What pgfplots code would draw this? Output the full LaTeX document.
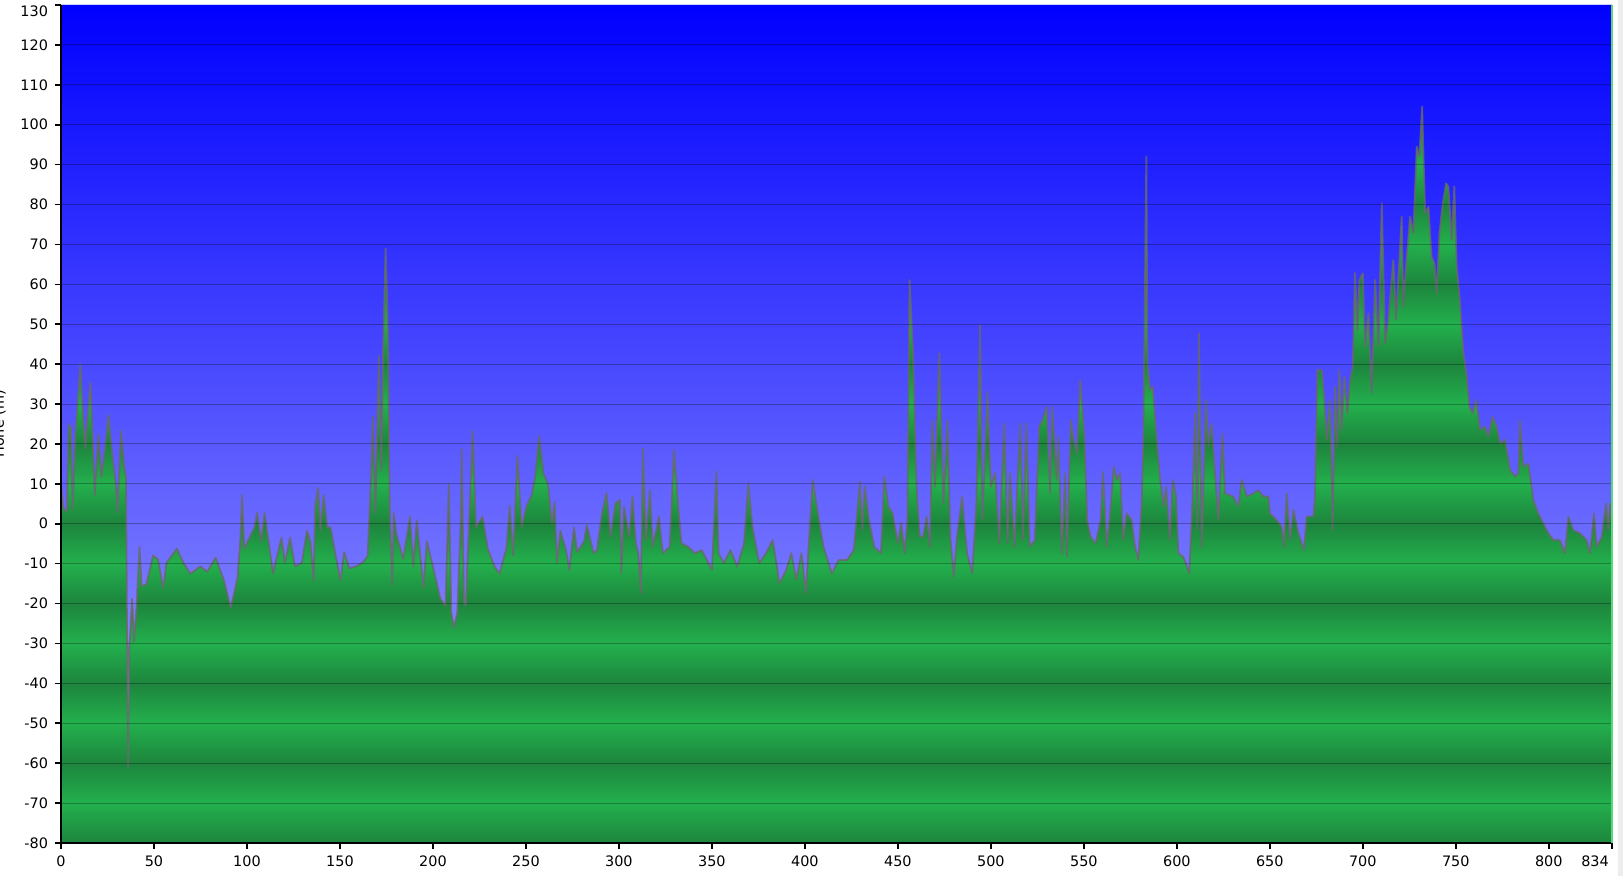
\documentclass[border=0pt]{standalone}
\usepackage{pgfplots}
\usepackage{pgfplotstable}
\pgfplotsset{compat=1.18}
\usepackage{fontspec}
\setmainfont{DejaVu Sans}

\definecolor{bandDark}{RGB}{29,133,61}
\definecolor{bandLight}{RGB}{35,176,77}
\definecolor{skyTop}{RGB}{0,0,255}
\definecolor{skyBottom}{RGB}{170,170,255}
\definecolor{profLine}{RGB}{105,105,105}
\definecolor{edgeGreen}{RGB}{90,215,120}
\definecolor{topLine}{RGB}{205,205,255}

% green stripes, 10 m each: dark at multiples of 20, light in between
% (axis box -80..130 maps onto 25bp..75bp of the shading)
\pgfdeclareverticalshading{greenbands}{100bp}{%
  color(0bp)=(bandDark); color(25bp)=(bandDark);
  color(27.381bp)=(bandLight); color(29.762bp)=(bandDark);
  color(32.143bp)=(bandLight); color(34.524bp)=(bandDark);
  color(36.905bp)=(bandLight); color(39.286bp)=(bandDark);
  color(41.667bp)=(bandLight); color(44.048bp)=(bandDark);
  color(46.429bp)=(bandLight); color(48.810bp)=(bandDark);
  color(51.190bp)=(bandLight); color(53.571bp)=(bandDark);
  color(55.952bp)=(bandLight); color(58.333bp)=(bandDark);
  color(60.714bp)=(bandLight); color(63.095bp)=(bandDark);
  color(65.476bp)=(bandLight); color(67.857bp)=(bandDark);
  color(70.238bp)=(bandLight); color(72.619bp)=(bandDark);
  color(75bp)=(bandLight); color(100bp)=(bandLight)}

% elevation profile, distance vs. height
\pgfplotstableread{
x y
0 10
1.25 4
3.14 3
4.09 25
5.32 24
6.26 3.6
7.68 22
10.43 40
11.47 29.6
13.08 18.8
14.60 28.7
15.82 35.4
16.77 24.2
18.19 7.2
20.08 22.4
21.88 11.7
24.06 20.6
25.48 27.3
27.66 17
29.45 9.9
30.40 2.7
32.20 23.3
34.00 14.4
34.94 11.7
35.42 -22
36.08 -60.8
36.74 -31.3
38.26 -18.8
39.30 -29.5
40.43 -22.4
42.23 -5.8
43.37 -15.6
45.83 -15.2
49.52 -8
52.17 -8.9
54.92 -16.1
56.72 -9.8
62.30 -6.2
65.80 -9.8
69.49 -12.5
74.98 -10.7
78.58 -12
83.12 -8.5
87.67 -14.3
91.26 -21
94.96 -13.4
96.38 -4.4
97.32 7.2
98.55 -6.2
101.30 -3.5
104.04 -0.9
105.46 2.7
107.64 -4.4
109.44 2.7
111.33 -3.5
113.98 -12.5
116.73 -7.1
118.52 -3.5
120.42 -9.8
123.16 -3.5
125.81 -10.7
129.51 -9.8
132.25 -1.7
134.05 -4.4
135.85 -14.3
136.70 4.5
138.22 9
139.45 -1.7
141.24 7.2
143.14 -0.9
144.94 -0.9
147.68 -8
150.33 -14.3
152.23 -7.1
154.97 -11.2
158.57 -10.7
162.16 -9.8
164.91 -8
166.71 11.7
167.65 26.9
169.07 2.7
170.97 42.1
172.20 13.5
173.14 42.1
174.56 69
175.89 47.5
176.74 4.5
178.16 -15.2
178.92 2.7
180.34 -2.6
184.03 -8.9
187.63 1.8
189.42 -10.7
191.32 0.9
194.92 -16.1
196.71 -4.4
200.40 -11.6
204.00 -18.8
206.75 -20.6
208.54 9.9
209.87 -22.3
211.29 -26
213.09 -22.3
214.89 0
215.46 18.8
216.69 -19.7
217.63 -20.6
219.43 0
221.32 23.3
223.12 -0.9
226.72 1.8
229.46 -6.2
233.06 -10.7
235.80 -12.5
239.50 -6.2
241.30 4.5
243.10 -8
245.46 17
247.64 -0.9
250.38 4.5
253.13 7.2
254.93 11.7
257.10 22
259.47 12.6
261.83 9.9
264.01 0
265.43 5.4
266.7 -9.8
268.5 -1.7
271.3 -6.2
273.4 -11.6
275.8 -0.9
277.6 -7.1
281.3 -4.4
282.7 -0.3
286.4 -7.4
288.2 -6.6
290.9 2.6
293.3 7.7
295.5 -3.2
298.2 5.1
300.5 6.0
301.3 -12.5
302.7 4.3
305.5 -3.2
307.3 6.8
309.1 -4.9
310.4 -7.4
311.8 -17.4
312.9 18.9
314.5 -4.1
316.7 8.4
318.2 -5.8
321.5 1.8
323.6 -7.4
327.3 -5.8
329.6 18.5
331.8 5.1
333.6 -4.9
337.3 -5.8
340.9 -7.4
344.5 -6.6
350 -11.6
352.4 13.1
353.6 -7.4
356.4 -9.9
360 -6.6
363.6 -10.8
367.3 -4.9
369.6 10.1
371.8 -0.7
375.4 -9.9
379.1 -7.4
382.7 -4.1
386.3 -14.9
390 -11.6
392.7 -7.4
395.4 -14.0
398.2 -7.4
400.5 -17.4
404.2 11.0
406.4 4.3
410 -5.8
414.5 -12.5
418.2 -9.1
422.7 -9.1
426.3 -6.6
429.6 10.6
430.9 -1.5
432.2 9.3
434.5 0.9
437.3 -5.8
440.9 -7.4
442.7 11.8
444.9 4.3
447.2 2.6
450 -4.9
451.8 0.2
453.6 -7.4
455.1 0.9
456.3 61.1
458.2 42.7
460 9.3
461.8 -3.2
463.6 -3.2
465.4 1.8
467.3 -5.8
468.5 26.0
470 9.3
472.3 42.7
474.5 5.1
476.7 26.0
478.2 -3.2
480 -13.3
481.8 -3.2
484.5 6.8
487.2 -7.4
490 -12.5
492.2 5.1
494.2 49.8
495.4 0.9
496.9 17.7
498.2 33.1
500 9.3
502.3 12.7
504.5 -4.9
507.2 25.2
509 -4.9
510.3 12.7
512.7 -5.8
515.8 25.2
517.3 -4.1
519.1 25.2
520.9 -5.8
523.6 -4.1
526 24.3
527.8 26.0
530 29.3
531.8 7.7
533 29.3
535.4 11.0
536.3 21.8
538.1 -7.4
540 12.7
540.9 -8.2
543 26.0
544.5 21.0
546.3 17.7
548.1 36.0
550.3 21.8
551.8 0.9
553.6 -3.2
556.3 -4.9
559 0.9
560.3 13
562.3 -5.8
564.1 2.6
566.2 14.3
567.7 11
569.5 12.6
571.2 -4.1
573 2.6
575.7 0.9
577.5 -5.8
579.3 -9.1
581.1 5.1
582 21
583.6 92
584.2 40.2
585.6 33.5
587 34.3
588.8 23.5
591 11
592.8 4.3
594.2 9.3
596.3 -4.1
597.8 11
599.6 6.8
600.8 -7.4
603.5 -8.3
606.7 -12.4
608.5 6.8
609.8 27.7
611 -1.6
611.9 47.7
613.4 -5.8
615.7 31
617 19.3
618.7 25.1
620.5 12.6
622.3 0.9
624.5 22.6
625.9 7.6
630.4 6.8
633.1 4.3
634.9 11
637.6 6.8
641.2 7.6
643.8 8.4
646.5 6.8
649.2 6.8
650.1 2.6
653.7 0.9
656.4 -0.8
657.6 -5.8
659.1 7.6
660.9 -4.1
662.7 3.5
665.4 -2.4
668.4 -6.6
669.8 1.8
673.4 1.8
674.3 6.8
675.6 38.5
677.9 38.5
679.2 31.8
680.6 21
682.4 31
683.8 -1.6
685.1 34.3
686.3 19.3
687.4 38.5
688.6 23.5
690.1 36.8
691.7 27.7
693.1 36
694.6 39.3
695.8 62.8
697.1 48.5
698.2 61.1
700 62.8
701.2 44.4
703 52.7
704.8 32.7
706.6 61.1
708.4 44.4
710.2 80.3
712 45.2
713.7 51.1
716.4 66.1
717.9 51.1
720.9 76.9
721.8 54.4
723.6 66.9
725.4 76.9
727.2 72.8
729 94.5
730.4 92
731.9 104.5
733.5 77.8
735.3 79.4
737 66.9
738.5 65.2
739.7 57.7
741.2 72.8
743 80.3
744.8 85.3
746 84.5
747.8 71.1
749.2 84.5
750.5 64.4
752.3 55.2
754.1 42.7
755.9 36.8
757.3 29.3
759.1 27.7
760.9 31
763.1 23.5
765.7 24.3
767.5 21.8
769.8 26.8
772 24.3
773.8 20.1
776.5 21
779.2 13.5
781.9 11.8
783.6 12.6
784.5 26
786.3 14.3
789 15.1
791.7 5.9
794.4 2.6
797.1 0.1
799.8 -2.4
802.5 -4.1
806 -4.1
808.7 -7.4
810.5 1.8
813.2 -1.6
816.8 -2.4
820.4 -4.1
822.2 -7.4
824.3 2.6
825.8 -5.8
828.5 -3.3
830.8 5.1
832 -1.6
833 5
834 0
}\profile

\begin{document}
\begin{tikzpicture}
\begin{axis}[
  scale only axis,
  width=775.5pt, height=419pt,
  xmin=0, xmax=834, ymin=-80, ymax=130,
  axis lines*=left,
  axis line style={line width=1pt, black},
  xtick={0,50,...,800},
  ytick={-80,-70,...,120},
  extra x ticks={834},
  extra x tick style={grid=none, xticklabel style={xshift=-8.5pt}},
  extra y ticks={130},
  extra y tick style={grid=none, yticklabel style={yshift=-3pt}},
  tick align=outside,
  major tick length=3pt,
  tick style={line width=0.8pt, black},
  ymajorgrids,
  grid style={black, opacity=0.28, line width=0.5pt},
  axis background/.style={shading=greenbands},
  axis on top,
  ticklabel style={font=\fontsize{7.2}{8}\selectfont},
  /pgf/number format/assume math mode=true,
  ylabel={Höhe (m)},
  every axis y label/.style={at={(rel axis cs:0,0.5)}, xshift=-28.5pt,
    rotate=90, anchor=base, font=\fontsize{7.2}{8}\selectfont},
]
% sky above the profile; the zero-width run down x=0 makes the gradient span -80..130
\addplot[draw=none, mark=none, top color=skyTop, bottom color=skyBottom]
  table {\profile} -- (axis cs:834,130) -- (axis cs:0,130) -- (axis cs:0,-80) -- cycle;
\addplot[profLine, mark=none, line width=0.9pt, opacity=0.8, line join=round]
  table {\profile};
\end{axis}
\draw[edgeGreen, line width=0.6pt] (current axis.south east) -- (current axis.north east);
\draw[topLine, line width=0.5pt] (current axis.north west) -- (current axis.north east);
\fill[black!7] ([xshift=3pt,yshift=2.5pt]current axis.north east)
  rectangle ([xshift=5.5pt,yshift=-16.5pt]current axis.south east);
\pgfresetboundingbox
\path[use as bounding box] ([xshift=-30.5pt,yshift=-16.5pt]current axis.south west)
  rectangle ([xshift=5.5pt,yshift=2.5pt]current axis.north east);
\end{tikzpicture}
\end{document}
